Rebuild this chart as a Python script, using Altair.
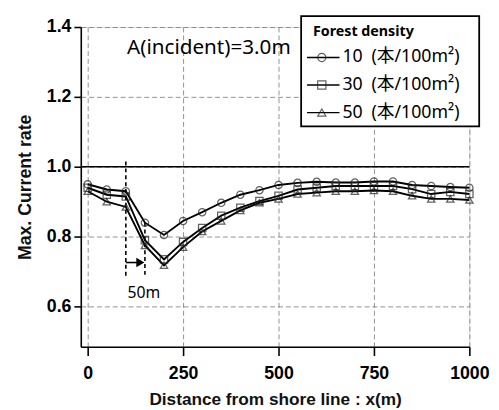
import altair as alt
import pandas as pd

# ---- data ----
distance = [0, 50, 100, 150, 200, 250, 300, 350, 400, 450, 500,
            550, 600, 650, 700, 750, 800, 850, 900, 950, 1000]
rate_10 = [0.950, 0.935, 0.930, 0.840, 0.805, 0.845, 0.870, 0.897, 0.920, 0.933, 0.948,
           0.954, 0.957, 0.955, 0.955, 0.958, 0.958, 0.948, 0.945, 0.942, 0.940]
rate_30 = [0.940, 0.920, 0.915, 0.790, 0.735, 0.785, 0.825, 0.860, 0.883, 0.902, 0.917,
           0.935, 0.940, 0.945, 0.945, 0.945, 0.945, 0.936, 0.922, 0.928, 0.922]
rate_50 = [0.930, 0.900, 0.885, 0.775, 0.718, 0.770, 0.815, 0.845, 0.875, 0.897, 0.908,
           0.922, 0.926, 0.930, 0.930, 0.932, 0.930, 0.917, 0.908, 0.908, 0.905]
densities = ["10", "30", "50"]
shapes = ["circle", "square", "triangle-up"]
legend_labels = ["10\u2002(本/100m²)", "30\u2002(本/100m²)", "50\u2002(本/100m²)"]
legend_title = "Forest density"
annotation = "A(incident)=3.0m"
reference_level = [1.0]
marker_x = [100, 150]
marker_top = [1.015, 0.84]
marker_bottom = [0.685, 0.685]
arrow_x = [100, 150]
arrow_y = 0.726
span_label = "50m"
x_ticks = [0, 250, 500, 750, 1000]
y_ticks = [0.6, 0.8, 1.0, 1.2, 1.4]

rows = []
for d, series in zip(densities, [rate_10, rate_30, rate_50]):
    for xv, yv in zip(distance, series):
        rows.append({"x": xv, "rate": yv, "density": d})
df = pd.DataFrame(rows)

W, H = 395, 325
xscale = alt.Scale(domain=[-18, 1000], nice=False, zero=False)
yscale = alt.Scale(domain=[0.485, 1.4], nice=False, zero=False)

TICKFONT = "Liberation Sans"
xaxis = alt.Axis(values=x_ticks, format="d", title="Distance from shore line : x(m)",
                 grid=True, gridDash=[5, 3], gridColor="#777", gridWidth=0.8,
                 domainColor="black", domainWidth=1.6, tickColor="black", tickWidth=1.6,
                 tickSize=9, labelPadding=9, labelFont=TICKFONT, labelFontSize=18,
                 labelFontWeight="bold", labelColor="black", titleFont=TICKFONT,
                 titleFontSize=17.5, titleFontWeight="bold", titleColor="#111",
                 titlePadding=9, labelFlush=False, labelOverlap=False)
yaxis = alt.Axis(values=y_ticks, format=".1f", title="Max. Current rate",
                 grid=True, gridDash=[5, 3], gridColor="#777", gridWidth=0.8,
                 domainColor="black", domainWidth=1.6, tickColor="black", tickWidth=1.6,
                 tickSize=7, labelPadding=3, labelFont=TICKFONT, labelFontSize=18,
                 labelFontWeight="bold", labelColor="black", titleFont=TICKFONT,
                 titleFontSize=18, titleFontWeight="bold", titleColor="#111",
                 titlePadding=12)

shape_scale = alt.Scale(domain=densities, range=shapes)

lines = alt.Chart(df).mark_line(color="black", strokeWidth=1.9).encode(
    x=alt.X("x:Q", scale=xscale, axis=xaxis),
    y=alt.Y("rate:Q", scale=yscale, axis=yaxis),
    detail="density:N",
)
points = alt.Chart(df).mark_point(filled=False, color="#222", size=55, strokeWidth=1.3).encode(
    x=alt.X("x:Q", scale=xscale),
    y=alt.Y("rate:Q", scale=yscale),
    shape=alt.Shape("density:N", scale=shape_scale, legend=None),
)

ref = alt.Chart(pd.DataFrame({"y": reference_level})).mark_rule(
    color="black", strokeWidth=1.6).encode(y=alt.Y("y:Q", scale=yscale))

mk = pd.DataFrame({"x": marker_x, "top": marker_top, "bottom": marker_bottom})
markers = alt.Chart(mk).mark_rule(color="black", strokeWidth=1.6, strokeDash=[4, 3]).encode(
    x=alt.X("x:Q", scale=xscale), y=alt.Y("top:Q", scale=yscale), y2="bottom:Q")

arr = pd.DataFrame({"x": [arrow_x[0]], "x2": [arrow_x[1] - 8], "y": [arrow_y]})
arrow_line = alt.Chart(arr).mark_rule(color="black", strokeWidth=1.6).encode(
    x=alt.X("x:Q", scale=xscale), x2="x2:Q", y=alt.Y("y:Q", scale=yscale))
head = pd.DataFrame({"x": [arrow_x[1] - 12], "y": [arrow_y]})
arrow_head = alt.Chart(head).mark_point(shape="triangle-right", filled=True, color="black",
                                        size=90, opacity=1).encode(
    x=alt.X("x:Q", scale=xscale), y=alt.Y("y:Q", scale=yscale))

lbl = pd.DataFrame({"x": [(arrow_x[0] + arrow_x[1]) / 2 + 22], "y": [0.638], "t": [span_label]})
span_text = alt.Chart(lbl).mark_text(font="Noto Sans", fontSize=16, color="black").encode(
    x=alt.X("x:Q", scale=xscale), y=alt.Y("y:Q", scale=yscale), text="t:N")

ann = alt.Chart(pd.DataFrame({"t": [annotation]})).mark_text(
    font="Noto Sans", fontSize=21, color="black", align="left", baseline="middle").encode(
    x=alt.value(47), y=alt.value(21), text="t:N")

# ---- hand-built legend box ----
legend_layers = []
legend_layers.append(alt.Chart(pd.DataFrame({"a": [0]})).mark_rect(
    fill="white", stroke="black", strokeWidth=1.8).encode(
    x=alt.value(224), x2=alt.value(405), y=alt.value(-11), y2=alt.value(101)))
legend_layers.append(alt.Chart(pd.DataFrame({"t": [legend_title]})).mark_text(
    font="Noto Sans", fontSize=14.5, fontWeight="bold", align="left", baseline="middle",
    color="black").encode(x=alt.value(236), y=alt.value(5), text="t:N"))
row_y = [31, 59, 87]
for lab, shp, ry in zip(legend_labels, shapes, row_y):
    legend_layers.append(alt.Chart(pd.DataFrame({"a": [0]})).mark_rule(
        color="black", strokeWidth=1.4).encode(
        x=alt.value(230), x2=alt.value(263), y=alt.value(ry)))
    legend_layers.append(alt.Chart(pd.DataFrame({"a": [0]})).mark_point(
        shape=shp, filled=False, color="#222", size=70, strokeWidth=1.2).encode(
        x=alt.value(245), y=alt.value(ry)))
    legend_layers.append(alt.Chart(pd.DataFrame({"t": [lab]})).mark_text(
        font="Noto Sans, Noto Sans CJK JP", fontSize=18, align="left", baseline="middle",
        color="black").encode(x=alt.value(266), y=alt.value(ry), text="t:N"))

chart = alt.layer(lines, ref, markers, arrow_line, arrow_head, points, span_text, ann,
                  *legend_layers).properties(
    width=W, height=H,
    autosize=alt.AutoSizeParams(type="none"),
    padding={"left": 74, "top": 16, "right": 22, "bottom": 62},
).configure_view(stroke=None).configure(background="white")

chart.save("out.html", embed_options={"renderer": "svg", "actions": False})
